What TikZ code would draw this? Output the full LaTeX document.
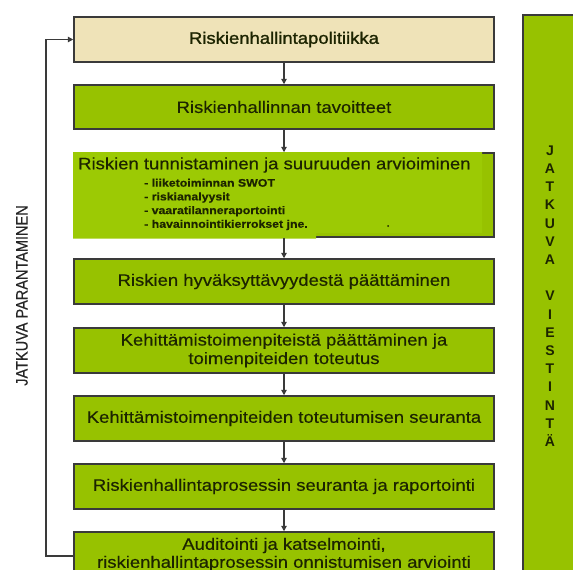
\documentclass[tikz,border=0pt]{standalone}
\usepackage{fontspec}
\setmainfont{Liberation Sans}[FakeStretch=1.12,FakeBold=0.4]
\newfontfamily\narrowfont{Liberation Sans}[FakeStretch=0.88,FakeBold=0.3]
\newfontfamily\heavyfont{Liberation Sans}[FakeStretch=1.12,FakeBold=1.4]
\newfontfamily\plainfont{Liberation Sans}
\usetikzlibrary{arrows.meta}
\definecolor{boxgreen}{HTML}{97C200}
\definecolor{lightgreen}{HTML}{9CCA04}
\definecolor{beige}{HTML}{EFE3B8}
\definecolor{edge}{HTML}{3A3A3A}
\definecolor{ink}{HTML}{1C2400}
\tikzset{
  stepbox/.style={draw=edge, line width=1.5pt, fill=boxgreen, minimum width=420pt,
    minimum height=45pt, inner sep=0pt, align=center, text=ink,
    font=\fontsize{16.5}{18.5}\selectfont},
  arr/.style={draw=edge, line width=1.2pt, -{Triangle[length=5.5pt,width=5.5pt]}},
  bul/.style={font=\bfseries\fontsize{11}{13.7}\selectfont, text=ink, align=left, inner sep=0pt}
}
\begin{document}
\begin{tikzpicture}[x=1pt,y=-1pt]
\useasboundingbox (0,0) rectangle (573,570);
\clip (0,0) rectangle (573,570);
% right panel
\fill[boxgreen] (523,15) rectangle (590,580);
\draw[edge, line width=1.5pt] (523,580) -- (523,15) -- (590,15);
\node[font=\plainfont\bfseries\fontsize{14}{18.2}\selectfont, text=ink, align=center, inner sep=0pt]
  (vt) at (550,296) {J\\A\\T\\K\\U\\V\\A\\[18.2pt]V\\I\\E\\S\\T\\I\\N\\T\\Ä};
% left label
\node[rotate=90, font=\narrowfont\fontsize{16.5}{18}\selectfont, text=black!85, inner sep=0pt]
  (jp) at (22,295.5) {JATKUVA PARANTAMINEN};
% boxes
\node[stepbox, fill=beige, font=\heavyfont\fontsize{16.5}{18.5}\selectfont] (b1) at (284,39.5) {Riskienhallintapolitiikka};
\node[stepbox, minimum height=44pt] (b2) at (284,107) {Riskienhallinnan tavoitteet};
\node[stepbox, minimum height=84pt] (b3) at (284,195) {};
\fill[lightgreen] (73,152) -- (482,152) -- (482,233) -- (316,233) -- (316,238.5) -- (73,238.5) -- cycle;
\node[anchor=west, inner sep=0pt, text=ink, font=\fontsize{16.5}{18.5}\selectfont] (b3t) at (78,165) {Riskien tunnistaminen ja suuruuden arvioiminen};
\node[bul, anchor=north west] (b3b) at (144,178.5) {- liiketoiminnan SWOT\\- riskianalyysit\\- vaaratilanneraportointi\\- havainnointikierrokset jne.};
\fill[ink] (388,226) circle (1pt);
\node[stepbox] (b4) at (284,281.5) {Riskien hyväksyttävyydestä päättäminen};
\node[stepbox] (b5) at (284,350.5) {Kehittämistoimenpiteistä päättäminen ja\\toimenpiteiden toteutus};
\node[stepbox] (b6) at (284,418.5) {Kehittämistoimenpiteiden toteutumisen seuranta};
\node[stepbox] (b7) at (284,486.5) {Riskienhallintaprosessin seuranta ja raportointi};
\node[stepbox, font=\fontsize{16.5}{18}\selectfont] (b8) at (284,554.5) {Auditointi ja katselmointi,\\riskienhallintaprosessin onnistumisen arviointi};
% arrows
\draw[arr] (b1) -- (b2);
\draw[arr] (b2) -- (b3);
\draw[arr] (b3) -- (b4);
\draw[arr] (b4) -- (b5);
\draw[arr] (b5) -- (b6);
\draw[arr] (b6) -- (b7);
\draw[arr] (b7) -- (b8);
\coordinate (fb) at (46,300);
\draw[arr] ([yshift=-1.5pt]b8.west) -| (fb) |- (b1.west);
\end{tikzpicture}
\end{document}
